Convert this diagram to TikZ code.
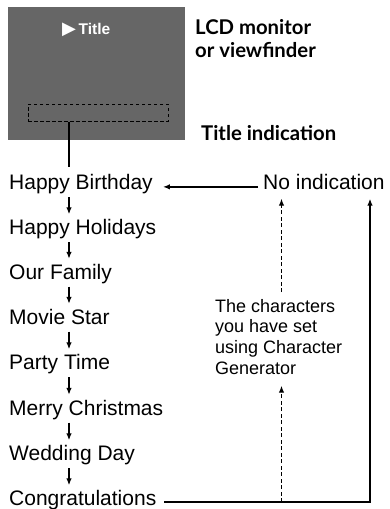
\documentclass[tikz,border=0pt]{standalone}
\usepackage{fontspec}
\setmainfont{Liberation Sans}
\newfontfamily\lblfont{Lato}
\newfontfamily\symfont{DejaVu Sans}
\usetikzlibrary{arrows.meta}
\definecolor{lcdgray}{RGB}{102,102,102}
\tikzset{
  rowtxt/.style={font=\fontsize{21}{24}\selectfont, anchor=base west, inner xsep=0pt, inner ysep=0pt, text height=15pt, text depth=4pt},
  boldlbl/.style={font=\lblfont\bfseries\fontsize{20.3}{23}\selectfont, anchor=base west, inner sep=0pt, align=left},
  conn/.style={line width=1.3pt, -{Latex[length=7pt,width=5.5pt]}},
  plainline/.style={line width=1.3pt},
  dashconn/.style={line width=1.2pt, dash pattern=on 4pt off 2.5pt, -{Latex[length=7pt,width=5.5pt]}},
}
\begin{document}
\begin{tikzpicture}[x=1pt,y=-1pt]
\useasboundingbox (0,0) rectangle (389,509);
% LCD screen
\node[fill=lcdgray, minimum width=177pt, minimum height=133pt, inner sep=0pt] (lcd) at (96.5,73.5) {};
\node[anchor=base west, inner sep=0pt, text=white, font=\bfseries\fontsize{15.5}{18}\selectfont] (ttl) at (62,34) {{\symfont\fontsize{18}{18}\selectfont ▶}\,Title};
\node[draw, dash pattern=on 3.5pt off 2.5pt, line width=1pt, minimum width=140pt, minimum height=17pt, inner sep=0pt] (dbox) at (98,112.5) {};
\node[boldlbl] (lcdlbl) at (195,57) {LCD monitor\\or viewfinder};
\node[boldlbl] (tilbl) at (201,140) {Title indication};
% rows
\coordinate (ax) at (69,0);
\node[rowtxt] (hb) at (9,189.5) {Happy Birthday};
\node[rowtxt] (hh) at (9,234.5) {Happy Holidays};
\node[rowtxt] (of) at (9,279) {Our Family};
\node[rowtxt] (ms) at (9,324) {Movie Star};
\node[rowtxt] (pt) at (9,369.5) {Party Time};
\node[rowtxt] (mc) at (9,415) {Merry Christmas};
\node[rowtxt] (wd) at (9,460.5) {Wedding Day};
\node[rowtxt] (cg) at (9,505.5) {Congratulations};
\draw[plainline, shorten >=7.5pt] (dbox.south -| ax) -- (hb.north -| ax);
\foreach \a/\b in {hb/hh, hh/of, of/ms, ms/pt, pt/mc, mc/wd, wd/cg}
  \draw[conn, shorten <=3.5pt, shorten >=5pt] (\a.south -| ax) -- (\b.north -| ax);
% right side
\node[rowtxt] (ni) at (263,189.5) {No indication};
\draw[conn, shorten <=5pt, shorten >=10pt] (ni.mid west) -- (hb.mid east);
\node[anchor=north west, inner sep=0pt, align=left, font=\fontsize{18}{20.7}\selectfont] (chr) at (215,299) {The characters\\you have set\\using Character\\Generator};
\coordinate (dx) at (281.5,0);
\coordinate (bl) at (370,502);
\draw[conn, shorten >=5pt] ([xshift=8pt]cg.east |- bl) -- (bl) -- (bl |- ni.south);
\draw[dashconn, shorten <=7pt, shorten >=5pt] (chr.north -| dx) -- (ni.south -| dx);
\draw[dashconn, shorten >=11pt] (dx |- bl) -- (dx |- chr.south);
\end{tikzpicture}
\end{document}
